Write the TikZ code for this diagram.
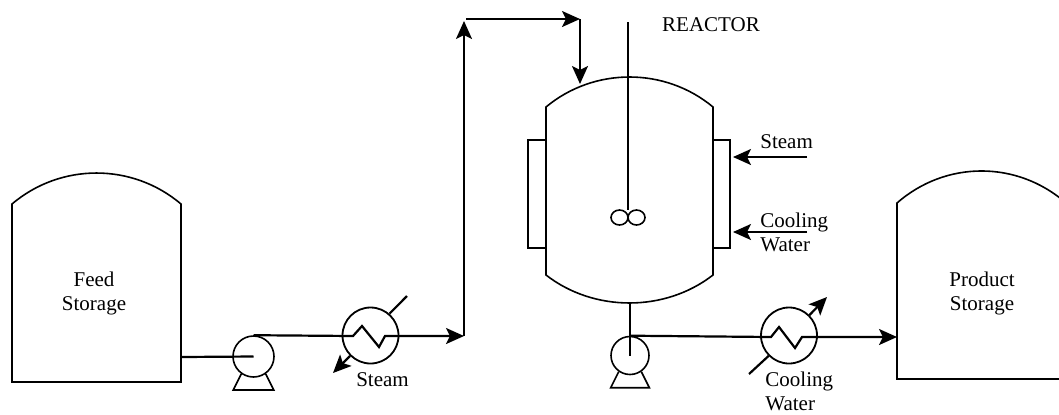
\documentclass[tikz,border=0pt]{standalone}
\usepackage{fontspec}
\setmainfont{Liberation Serif}
\usetikzlibrary{arrows.meta}

\begin{document}
\begin{tikzpicture}[x = 0.5pt, y = -0.5pt, font = \fontsize{10.5}{12}\selectfont,
        pipe/.style = {line width = 1.1pt},
        flow/.style = {pipe, -{Stealth[length = 9pt, width = 8pt, inset = 2pt]}},
        vessel/.style = {line width = 0.8pt},
        jacket/.style = {line width = 0.6pt},
        pump/.style = {circle, draw, line width = 0.8pt, inner sep = 0pt, minimum size = 20.5pt},
        exch/.style = {circle, draw, line width = 0.9pt, inner sep = 0pt, minimum size = 28pt},
        txt/.style = {inner sep = 0pt}]
    \clip (0, 0) rectangle (1059, 414);
    \draw[vessel] (12, 382) -- (12, 204) .. controls (60.7, 162.7) and (132.3, 162.7) .. (181, 204) -- (181, 382) -- cycle;
    \draw[vessel] (897, 379) -- (897, 203) .. controls (945.7, 160.3) and (1017.3, 160.3) .. (1066, 203) -- (1066, 379) -- cycle;
    \draw[vessel] (546, 107) .. controls (594, 67) and (665, 67) .. (713, 107) -- (713, 275)
        .. controls (665, 312.3) and (594, 312.3) .. (546, 275) -- cycle;
    \draw[jacket] (546, 140) -- (528, 140) -- (528, 248) -- (546, 248);
    \draw[jacket] (713, 140) -- (730, 140) -- (730, 248) -- (713, 248);
    \draw[pipe] (628, 22) -- (628, 210);
    \draw[vessel] (619.5, 217.5) ellipse [x radius = 4.25pt, y radius = 3.75pt];
    \draw[vessel] (636.5, 217.5) ellipse [x radius = 4.25pt, y radius = 3.75pt];
    \node[txt, align = center] (feed) at (94, 293) {Feed\\Storage};
    \node[txt, align = center] (product) at (982, 293) {Product\\Storage};
    \node[txt] (reactor) at (711, 25) {REACTOR};
    \node[txt, anchor = west] (steamR) at (760, 142) {Steam};
    \node[txt, anchor = west, align = left] (coolR) at (760, 232) {Cooling\\Water};
    \node[txt] (steamA) at (382.5, 380) {Steam};
    \node[txt, anchor = west, align = left] (coolB) at (765, 391) {Cooling\\Water};
    \node[pump] (pumpA) at (253.5, 356.5) {};
    \node[pump, minimum size = 19pt] (pumpB) at (630, 355.5) {};
    \foreach \p in {pumpA, pumpB}
        \draw[vessel] (\p.235) -- ++(-8, 16) -- ([shift = {(8, 16)}]\p.305) -- (\p.305);
    \node[exch] (hxA) at (370.5, 335.5) {};
    \node[exch] (hxB) at (789, 335.5) {};
    \coordinate (feedout) at (181, 357);
    \coordinate (riseA) at (464, 336);
    \coordinate (riseB) at (464, 21);
    \coordinate (topA) at (466, 19);
    \coordinate (topB) at (580, 19);
    \coordinate (dropB) at (580, 84);
    \coordinate (reacbot) at (630, 303);
    \coordinate (prodin) at (897, 337);
    \coordinate (steamAin) at (407, 296);
    \coordinate (steamAout) at (333, 373);
    \coordinate (coolBin) at (749, 374);
    \coordinate (coolBout) at (827, 297);
    \coordinate (steamRin) at (807, 157);
    \coordinate (steamRout) at (733, 157);
    \coordinate (coolRin) at (807, 232);
    \coordinate (coolRout) at (733, 232);
    \draw[pipe] (feedout) -- (pumpA.center);
    \draw[flow] (pumpA.north) -- ([shift = {(-17.5, 0.5)}]hxA.center) -- ++(9, -10) -- ++(17, 21) -- ++(6, -11) -- (riseA);
    \draw[flow] (riseA) -- (riseB);
    \draw[flow] (topA) -- (topB);
    \draw[flow] (topB) -- (dropB);
    \draw[pipe] (hxA.49) -- (steamAin);
    \draw[flow] (hxA.225) -- (steamAout);
    \draw[pipe] (reacbot) -- (pumpB.center);
    \draw[flow] (pumpB.north) -- ([shift = {(-18, 1.5)}]hxB.center) -- ++(8, -10) -- ++(16, 21) -- ++(7, -11) -- (prodin);
    \draw[pipe] (coolBin) -- (hxB.225);
    \draw[flow] (hxB.45) -- (coolBout);
    \draw[flow] (steamRin) -- (steamRout);
    \draw[flow] (coolRin) -- (coolRout);
\end{tikzpicture}
\end{document}
